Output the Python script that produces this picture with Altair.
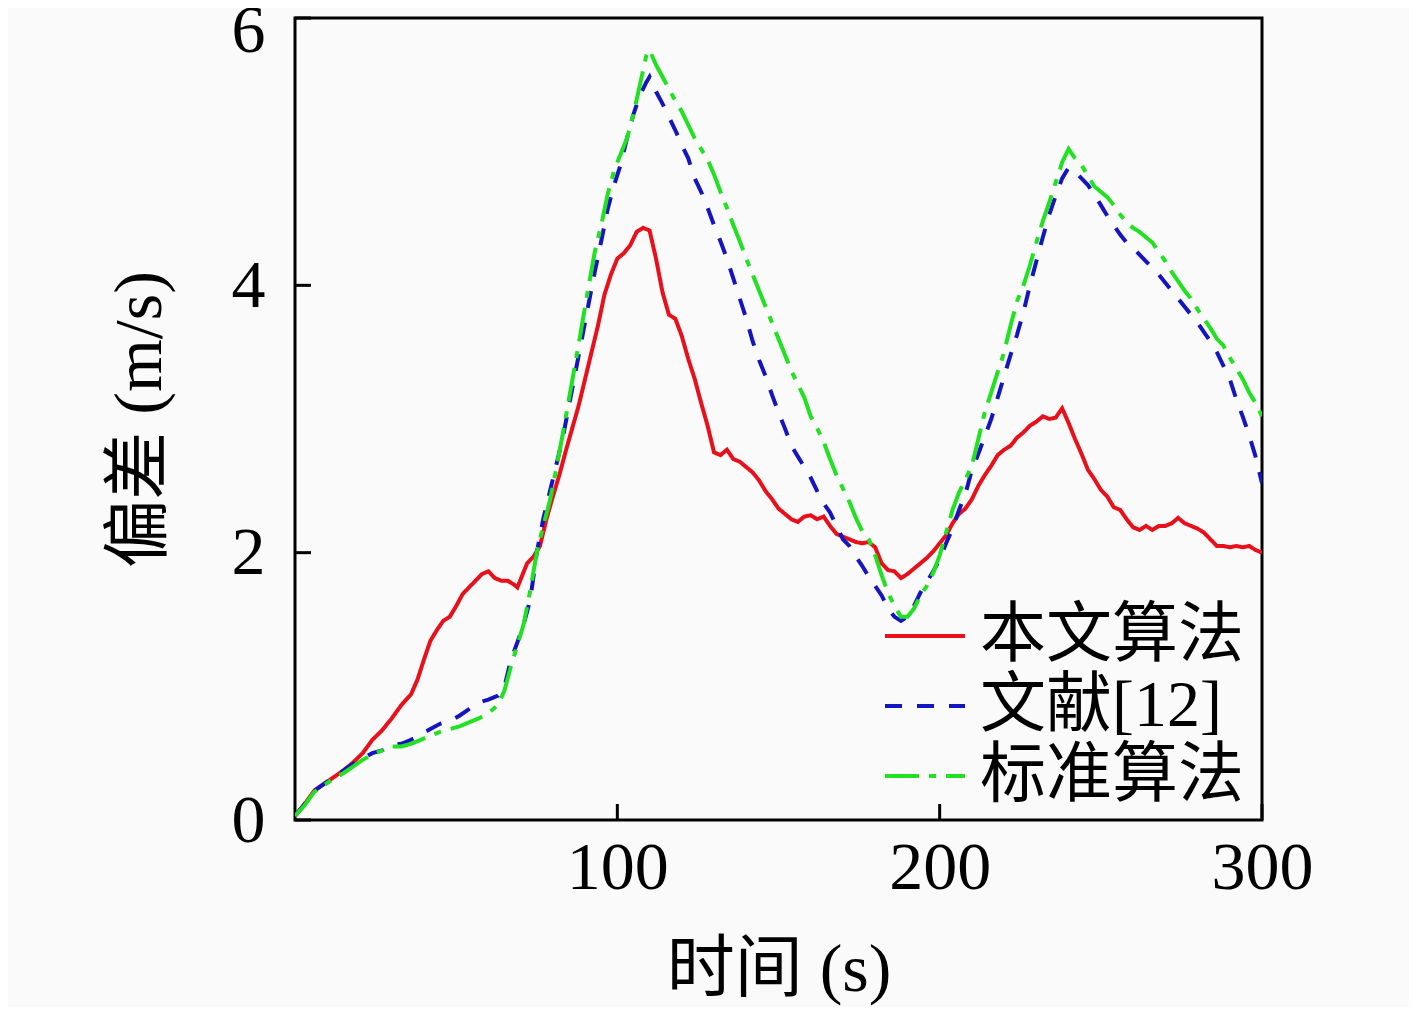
import altair as alt
import pandas as pd

SERIES = ["本文算法", "文献[12]", "标准算法"]
COLORS = ["#e8101a", "#1515c0", "#22e022"]
DASHES = [[1, 0], [17, 15], [34, 10, 7, 10]]

T_RED = [0, 3, 6, 9, 12, 15, 18, 21, 24, 27, 30, 33, 36, 38, 40, 42, 44, 46, 48, 50,
         52, 54, 56, 58, 60, 62, 64, 66, 68, 69, 70, 72, 74, 76, 78, 80, 82, 84, 86, 88,
         90, 92, 94, 96, 98, 100, 102, 104, 106, 108, 110, 112, 114, 116, 118, 120, 122, 124, 126, 128,
         130, 132, 134, 136, 138, 140, 142, 144, 146, 148, 150, 152, 154, 156, 158, 160, 162, 164, 166, 168,
         170, 172, 174, 176, 178, 180, 182, 184, 186, 188, 190, 192, 194, 196, 198, 200, 202, 204, 206, 208,
         210, 212, 214, 216, 218, 220, 222, 224, 226, 228, 230, 232, 234, 236, 238, 240, 242, 244, 246, 248,
         250, 252, 254, 256, 258, 260, 262, 264, 266, 268, 270, 272, 274, 276, 278, 280, 282, 284, 286, 288,
         290, 292, 294, 296, 298, 300]
V_RED = [0.03, 0.12, 0.22, 0.27, 0.32, 0.37, 0.43, 0.50, 0.60, 0.67, 0.76, 0.86, 0.94, 1.05, 1.20, 1.34, 1.42, 1.49, 1.52, 1.60,
         1.69, 1.74, 1.79, 1.84, 1.86, 1.81, 1.79, 1.79, 1.76, 1.74, 1.80, 1.92, 1.97, 2.05, 2.25, 2.42, 2.58, 2.76, 2.93, 3.10,
         3.30, 3.50, 3.70, 3.93, 4.08, 4.20, 4.24, 4.30, 4.40, 4.43, 4.41, 4.20, 3.95, 3.78, 3.75, 3.62, 3.45, 3.30, 3.12, 2.95,
         2.75, 2.73, 2.77, 2.70, 2.68, 2.64, 2.60, 2.54, 2.46, 2.40, 2.33, 2.29, 2.25, 2.23, 2.27, 2.28, 2.25, 2.27, 2.20, 2.14,
         2.12, 2.10, 2.08, 2.07, 2.08, 2.04, 1.92, 1.87, 1.86, 1.81, 1.84, 1.88, 1.92, 1.96, 2.01, 2.07, 2.13, 2.22, 2.29, 2.33,
         2.40, 2.50, 2.58, 2.65, 2.73, 2.77, 2.80, 2.86, 2.90, 2.95, 2.98, 3.02, 3.00, 3.01, 3.08, 2.97, 2.85, 2.74, 2.62, 2.55,
         2.47, 2.42, 2.34, 2.32, 2.25, 2.19, 2.17, 2.20, 2.17, 2.20, 2.20, 2.22, 2.26, 2.22, 2.20, 2.18, 2.15, 2.10, 2.05, 2.05,
         2.04, 2.05, 2.04, 2.05, 2.02, 2.00]

T_BLUE = [0, 3, 6, 9, 12, 15, 18, 21, 24, 27, 30, 33, 36, 39, 42, 45, 48, 51, 54, 57,
          60, 63, 65, 67, 69, 71, 73, 75, 77, 79, 81, 83, 85, 87, 89, 91, 93, 95, 97, 99,
          101, 103, 105, 107, 109, 110, 112, 114, 116, 118, 120, 122, 124, 126, 128, 130, 132, 134, 136, 138,
          140, 142, 144, 146, 148, 150, 152, 154, 156, 158, 160, 162, 164, 166, 168, 170, 172, 174, 176, 178,
          180, 182, 184, 186, 188, 190, 192, 194, 196, 198, 200, 202, 204, 206, 208, 210, 212, 214, 216, 218,
          220, 222, 224, 226, 228, 230, 232, 234, 236, 238, 240, 242, 244, 246, 248, 250, 252, 254, 256, 258,
          260, 262, 264, 266, 268, 270, 272, 274, 276, 278, 280, 282, 284, 286, 288, 290, 292, 294, 296, 298, 300]
V_BLUE = [0.03, 0.12, 0.22, 0.27, 0.32, 0.37, 0.42, 0.46, 0.50, 0.52, 0.56, 0.57, 0.60, 0.64, 0.68, 0.72, 0.74, 0.78, 0.83, 0.88,
          0.90, 0.93, 1.00, 1.20, 1.33, 1.47, 1.65, 2.00, 2.25, 2.45, 2.65, 2.85, 3.10, 3.35, 3.60, 3.85, 4.10, 4.33, 4.57, 4.75,
          4.90, 5.10, 5.28, 5.42, 5.52, 5.56, 5.45, 5.36, 5.26, 5.16, 5.05, 4.95, 4.80, 4.70, 4.58, 4.45, 4.33, 4.20, 4.05, 3.90,
          3.75, 3.58, 3.44, 3.32, 3.18, 3.05, 2.93, 2.80, 2.72, 2.64, 2.56, 2.46, 2.37, 2.30, 2.20, 2.10, 2.05, 1.97, 1.90, 1.82,
          1.75, 1.68, 1.58, 1.52, 1.49, 1.52, 1.60, 1.70, 1.78, 1.86, 1.95, 2.07, 2.18, 2.32, 2.44, 2.62, 2.74, 2.87, 3.00, 3.16,
          3.32, 3.48, 3.63, 3.80, 4.00, 4.18, 4.36, 4.53, 4.67, 4.80, 4.88, 4.85, 4.80, 4.75, 4.68, 4.60, 4.52, 4.45, 4.38, 4.32,
          4.28, 4.23, 4.18, 4.13, 4.08, 4.02, 3.96, 3.90, 3.84, 3.78, 3.72, 3.65, 3.58, 3.50, 3.40, 3.30, 3.15, 3.02, 2.88, 2.72, 2.52]

T_GREEN = [0, 3, 6, 9, 12, 15, 18, 21, 24, 27, 30, 33, 36, 39, 42, 45, 48, 51, 54, 57,
           60, 63, 65, 67, 69, 71, 73, 75, 77, 79, 81, 83, 85, 87, 89, 91, 93, 95, 97, 99,
           101, 103, 105, 107, 109, 110, 112, 114, 116, 118, 120, 122, 124, 126, 128, 130, 132, 134, 136, 138,
           140, 142, 144, 146, 148, 150, 152, 154, 156, 158, 160, 162, 164, 166, 168, 170, 172, 174, 176, 178,
           180, 182, 184, 186, 188, 190, 192, 194, 196, 198, 200, 202, 204, 206, 208, 210, 212, 214, 216, 218,
           220, 222, 224, 226, 228, 230, 232, 234, 236, 238, 240, 242, 244, 246, 248, 250, 252, 254, 256, 258,
           260, 262, 264, 266, 268, 270, 272, 274, 276, 278, 280, 282, 284, 286, 288, 290, 292, 294, 296, 298, 300]
V_GREEN = [0.03, 0.11, 0.21, 0.26, 0.31, 0.35, 0.40, 0.45, 0.49, 0.52, 0.55, 0.55, 0.57, 0.60, 0.63, 0.66, 0.68, 0.70, 0.73, 0.76,
           0.80, 0.86, 0.97, 1.15, 1.31, 1.47, 1.72, 2.00, 2.20, 2.38, 2.62, 2.88, 3.15, 3.42, 3.70, 3.98, 4.25, 4.45, 4.68, 4.86,
           4.98, 5.10, 5.28, 5.50, 5.72, 5.76, 5.65, 5.56, 5.47, 5.38, 5.30, 5.20, 5.10, 5.02, 4.94, 4.83, 4.70, 4.58, 4.45, 4.33,
           4.20, 4.08, 3.96, 3.84, 3.72, 3.60, 3.48, 3.36, 3.26, 3.16, 3.02, 2.93, 2.83, 2.70, 2.58, 2.48, 2.38, 2.26, 2.16, 2.10,
           1.98, 1.83, 1.70, 1.60, 1.52, 1.52, 1.58, 1.68, 1.75, 1.85, 1.98, 2.15, 2.32, 2.45, 2.55, 2.65, 2.85, 3.05, 3.20, 3.35,
           3.50, 3.70, 3.88, 4.00, 4.15, 4.32, 4.48, 4.62, 4.77, 4.92, 5.02, 4.95, 4.90, 4.82, 4.74, 4.70, 4.66, 4.60, 4.53, 4.47,
           4.43, 4.40, 4.36, 4.32, 4.25, 4.18, 4.10, 4.03, 3.96, 3.90, 3.82, 3.75, 3.68, 3.60, 3.55, 3.46, 3.38, 3.30, 3.20, 3.12, 3.02]

XTICKS = [100, 200, 300]
YTICKS = [0, 2, 4, 6]
X_TITLE = "时间 (s)"
Y_TITLE = "偏差 (m/s)"

rows = []
for name, ts, vs in [(SERIES[0], T_RED, V_RED), (SERIES[1], T_BLUE, V_BLUE), (SERIES[2], T_GREEN, V_GREEN)]:
    for i, (t, v) in enumerate(zip(ts, vs)):
        rows.append({"t": t, "v": v, "series": name, "order": i})
df = pd.DataFrame(rows)

W, H = 967, 802
FONT = "Liberation Serif, Noto Sans CJK SC"

xscale = alt.Scale(domain=[0, 300], nice=False, zero=False)
yscale = alt.Scale(domain=[0, 6], nice=False)

legend = alt.Legend(title=None, orient="none", legendX=588, legendY=583,
                    symbolType="stroke", symbolSize=6400, symbolStrokeWidth=4,
                    labelFont=FONT, labelFontSize=66, labelColor="black", labelLimit=0,
                    labelOffset=13, rowPadding=0, clipHeight=70, padding=0)

lines = alt.Chart(df).mark_line(strokeWidth=4, strokeCap="butt", clip=True).encode(
    x=alt.X("t:Q", scale=xscale,
            axis=alt.Axis(values=XTICKS, ticks=False, domain=False, grid=False, format="d",
                          labelFlush=False,
                          labelFont=FONT, labelFontSize=68, labelColor="black",
                          labelPadding=14, title=X_TITLE, titleFont=FONT,
                          titleFontSize=68, titleFontWeight="normal", titleColor="black",
                          titleY=150, titleBaseline="middle")),
    y=alt.Y("v:Q", scale=yscale,
            axis=alt.Axis(values=YTICKS, ticks=False, domain=False, grid=False, format="d",
                          labelFlush=False,
                          labelFont=FONT, labelFontSize=68, labelColor="black",
                          labelPadding=30, labelBaseline="middle",
                          labelOffset={"condition": {"test": "datum.value == 6", "value": 13}, "value": 1},
                          title=Y_TITLE, titleFont=FONT, titleFontSize=68,
                          titleFontWeight="normal", titleColor="black",
                          titleX=-155, titleY=H / 2, titleAngle=-90,
                          titleAlign="center", titleBaseline="middle")),
    color=alt.Color("series:N", scale=alt.Scale(domain=SERIES, range=COLORS), legend=legend),
    strokeDash=alt.StrokeDash("series:N", scale=alt.Scale(domain=SERIES, range=DASHES), legend=legend),
    order="order:Q",
)

xt = alt.Chart(pd.DataFrame({"t": XTICKS})).mark_rule(color="black", strokeWidth=3).encode(
    x=alt.X("t:Q", scale=xscale), y=alt.value(H), y2=alt.value(H - 16))
yt = alt.Chart(pd.DataFrame({"v": YTICKS})).mark_rule(color="black", strokeWidth=3).encode(
    y=alt.Y("v:Q", scale=yscale), x=alt.value(0), x2=alt.value(16))

chart = alt.layer(lines, xt, yt).properties(
    width=W, height=H,
    autosize=alt.AutoSizeParams(type="none"),
    padding={"left": 287, "top": 10, "right": 147, "bottom": 187},
    background="#fafafa",
).configure_view(stroke="black", strokeWidth=3)

chart.save("out.html", embed_options={"renderer": "svg", "actions": False})
